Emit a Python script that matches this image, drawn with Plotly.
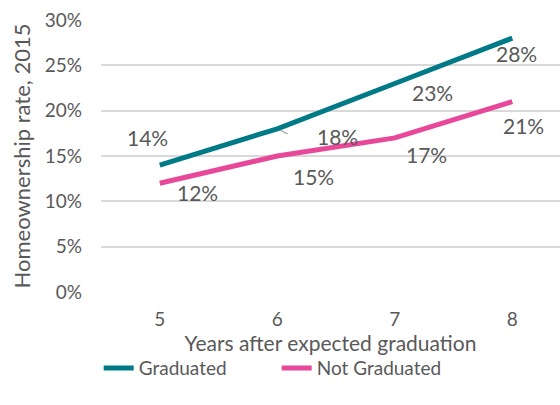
import plotly.graph_objects as go

years = [5, 6, 7, 8]
graduated = [0.14, 0.18, 0.23, 0.28]
not_graduated = [0.12, 0.15, 0.17, 0.21]
y_ticks = [0, 0.05, 0.10, 0.15, 0.20, 0.25, 0.30]

grey = "#595959"
teal = "#007A87"
pink = "#E8489A"
font = "Lato, 'Open Sans', sans-serif"

fig = go.Figure()
fig.add_trace(go.Scatter(x=years, y=graduated, mode="lines", name="Graduated",
                         line=dict(color=teal, width=5)))
fig.add_trace(go.Scatter(x=years, y=not_graduated, mode="lines", name="Not Graduated",
                         line=dict(color=pink, width=5)))

# label offsets (pixels) for each point, following the original placement
grad_shift = [(-12, 28), (60, -8), (38, -9), (4, -15)]
notg_shift = [(38, -9), (36, -20), (32, -17), (11, -24)]

for i, x in enumerate(years):
    dx, dy = grad_shift[i]
    fig.add_annotation(x=x, y=graduated[i], text=f"{graduated[i]*100:.0f}%",
                       showarrow=False, xshift=dx, yshift=dy,
                       font=dict(size=21, color=grey, family=font))
    dx, dy = notg_shift[i]
    fig.add_annotation(x=x, y=not_graduated[i], text=f"{not_graduated[i]*100:.0f}%",
                       showarrow=False, xshift=dx, yshift=dy,
                       font=dict(size=21, color=grey, family=font))

# small leader line by the 18% label
fig.add_annotation(x=years[1], y=graduated[1], text="", showarrow=True,
                   ax=12, ay=6, arrowhead=0, arrowwidth=1.2, arrowcolor="#A6A6A6",
                   standoff=3)

fig.update_layout(
    width=560, height=405,
    margin=dict(l=101, r=0, t=20, b=113, autoexpand=False),
    plot_bgcolor="white", paper_bgcolor="white",
    font=dict(family=font, color=grey, size=18),
    showlegend=True,
    legend=dict(orientation="h", x=-0.005, xanchor="left", y=-0.21, yanchor="top",
                font=dict(size=19, color=grey), entrywidth=133,
                tracegroupgap=0),
    xaxis=dict(range=[4.5, 8.406], tickvals=years, showgrid=False, zeroline=False,
               showline=False, ticks="", ticklabelstandoff=14, automargin=False,
               tickfont=dict(size=19, color=grey),
               title=dict(text="Years after expected graduation", standoff=0,
                          font=dict(size=21, color=grey))),
    yaxis=dict(range=[0, 0.30], tickvals=y_ticks, tickformat=".0%",
               showgrid=True, gridcolor="#D9D9D9", gridwidth=1.5, automargin=False,
               zeroline=False, showline=False, ticks="", ticklabelstandoff=18,
               tickfont=dict(size=19, color=grey),
               title=dict(text="Homeownership rate, 2015", standoff=8,
                          font=dict(size=22, color=grey))),
)

fig.write_html("out.html", config={"displayModeBar": False},
               post_script="document.body.style.margin='0';")
